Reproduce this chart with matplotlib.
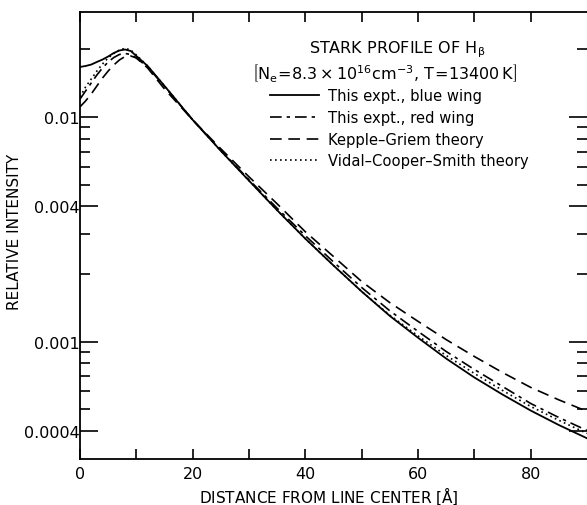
import matplotlib.pyplot as plt
from matplotlib.ticker import FixedLocator, NullFormatter

# Distance from line center [A]
dist = [0, 1, 2, 3, 4, 5, 6, 7, 8, 9, 10, 12, 15, 20, 25, 30, 35, 40, 45, 50, 55, 60, 65, 70, 75, 80, 85, 90]

# This expt., blue wing
blue = [0.01668, 0.01685, 0.0171, 0.01756, 0.0180, 0.01857, 0.01925, 0.01975, 0.01995, 0.01965,
        0.01867, 0.01685, 0.01373, 0.0097, 0.00706, 0.0052, 0.00384, 0.00287, 0.00218, 0.00167,
        0.0013, 0.00104, 0.00084, 0.000692, 0.000581, 0.000493, 0.000425, 0.000371]
# This expt., red wing
red = [0.0120, 0.01305, 0.01416, 0.01537, 0.01651, 0.01756, 0.01838, 0.01896, 0.01915, 0.01896,
       0.0183, 0.01668, 0.01366, 0.0097, 0.0071, 0.00525, 0.00392, 0.00296, 0.00226, 0.00174,
       0.00137, 0.00111, 0.000903, 0.000751, 0.000631, 0.00053, 0.000459, 0.000402]
# Kepple-Griem theory
kg = [0.01108, 0.01178, 0.01265, 0.01373, 0.0149, 0.0160, 0.01702, 0.01792, 0.01857, 0.01867,
      0.0183, 0.01651, 0.01331, 0.0097, 0.00721, 0.00541, 0.0041, 0.00308, 0.00239, 0.00185,
      0.00149, 0.00123, 0.00102, 0.000858, 0.000728, 0.000625, 0.00055, 0.000489]
# Vidal-Cooper-Smith theory
vcs = [0.01227, 0.0136, 0.01475, 0.0160, 0.0172, 0.0183, 0.01915, 0.01985, 0.0202, 0.01985,
       0.01886, 0.01685, 0.01373, 0.0097, 0.00706, 0.0052, 0.00384, 0.00287, 0.00218, 0.00167,
       0.00131, 0.00106, 0.000867, 0.000721, 0.000606, 0.000514, 0.000446, 0.00039]

ytick_vals = [0.01, 0.004, 0.001, 0.0004]
ytick_labels = ['0.01', '0.004', '0.001', '0.0004']
yminor_vals = [0.02, 0.009, 0.008, 0.007, 0.006, 0.005, 0.003, 0.002,
               0.0009, 0.0008, 0.0007, 0.0006, 0.0005]

plt.rcParams['font.family'] = 'DejaVu Sans'
plt.rcParams['mathtext.default'] = 'regular'

fig = plt.figure(figsize=(5.87, 5.06), dpi=100)
ax = fig.add_axes([80 / 587, 46 / 506, 507 / 587, 447 / 506])

ax.plot(dist, blue, color='black', lw=1.3, ls='-', label='This expt., blue wing')
ax.plot(dist, red, color='black', lw=1.2, ls=(0, (7, 3, 2, 3)), label='This expt., red wing')
ax.plot(dist, kg, color='black', lw=1.2, ls=(0, (7, 4)), label='Kepple\u2013Griem theory')
ax.plot(dist, vcs, color='black', lw=1.2, ls=(0, (1, 2)), label='Vidal\u2013Cooper\u2013Smith theory')

ax.set_yscale('log')
ax.set_xlim(0, 90)
ax.set_ylim(0.0003, 0.0293)

ax.xaxis.set_major_locator(FixedLocator([0, 20, 40, 60, 80]))
ax.xaxis.set_minor_locator(FixedLocator([10, 30, 50, 70]))
ax.yaxis.set_major_locator(FixedLocator(ytick_vals))
ax.set_yticklabels(ytick_labels)
ax.yaxis.set_minor_locator(FixedLocator(yminor_vals))
ax.yaxis.set_minor_formatter(NullFormatter())

ax.tick_params(axis='x', which='both', direction='in', top=True, length=7, width=1.2,
               labelsize=11.5, pad=5)
ax.tick_params(axis='y', which='major', direction='in', right=True, length=13, width=1.2,
               labelsize=11.5, pad=0.5)
ax.tick_params(axis='y', which='minor', direction='in', right=True, length=7, width=1.2)
for s in ax.spines.values():
    s.set_linewidth(1.3)
ax.spines['right'].set_visible(False)

# axis titles
fig.text(329 / 587, 1 - 496 / 506, 'DISTANCE FROM LINE CENTER $\\left[\\AA\\right]$',
         ha='center', va='center', fontsize=11)
fig.text(15 / 587, 1 - 232 / 506, 'RELATIVE INTENSITY', rotation=90,
         ha='center', va='center', fontsize=11)

ax.text(0.626, 0.918, 'STARK PROFILE OF H$_\\beta$', transform=ax.transAxes,
        ha='center', va='center', fontsize=11.5)
ax.text(0.6, 0.866, '$\\left[N_e\\!=\\!8.3\\times10^{16}cm^{-3},\\,T\\!=\\!13400\\,K\\right]$',
        transform=ax.transAxes, ha='center', va='center', fontsize=11.5)

ax.legend(loc='upper left', bbox_to_anchor=(0.375, 0.829), frameon=False, fontsize=10.6,
          handlelength=3.3, handletextpad=0.65, labelspacing=0.45, borderpad=0, borderaxespad=0)

fig.savefig('out.png', dpi=100)
